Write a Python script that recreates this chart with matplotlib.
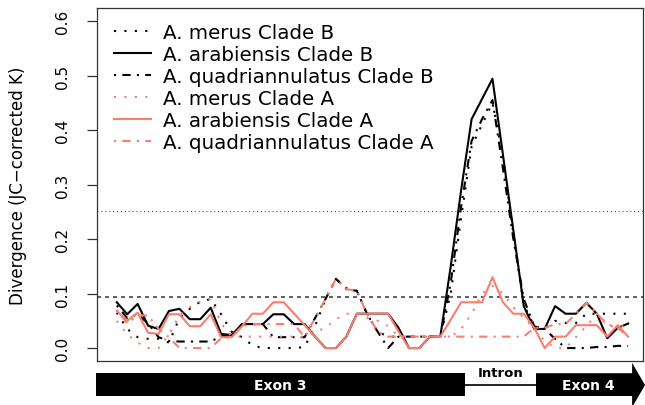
import numpy as np
import matplotlib
matplotlib.use('Agg')
import matplotlib.pyplot as plt
import matplotlib.patches as patches

plt.rcParams.update({'font.family': 'DejaVu Sans'})

# window index along the alignment (50 sliding windows)
window = np.arange(50)

merus_B = [.065, .035, .020, .017, .017, .010, .055, .072, .085, .090,
           .062, .030, .020, .005, .000, .000, .000, .000, .002, .040,
           .090, .127, .110, .105, .062, .030, .021, .021, .021, .021,
           .021, .021, .100, .240, .370, .410, .450, .350, .210, .080,
           .040, .035, .050, .046, .046, .063, .063, .063, .063, .063]
arab_B = [.084, .062, .081, .041, .035, .068, .072, .053, .053, .074,
          .026, .024, .044, .044, .044, .062, .062, .044, .044, .021,
          .000, .000, .021, .063, .063, .063, .063, .037, .000, .000,
          .021, .021, .150, .290, .420, .457, .494, .355, .216, .077,
          .035, .035, .077, .063, .063, .083, .063, .018, .037, .045]
quad_B = [.078, .055, .062, .045, .020, .013, .012, .012, .012, .012,
          .022, .022, .044, .044, .044, .020, .020, .020, .020, .055,
          .090, .127, .108, .105, .062, .030, .000, .021, .021, .021,
          .021, .021, .120, .260, .380, .420, .455, .330, .200, .090,
          .040, .035, .017, .000, .000, .000, .002, .002, .004, .004]
merus_A = [.050, .025, .010, .000, .000, .025, .060, .075, .085, .090,
           .045, .022, .021, .021, .021, .021, .021, .021, .021, .030,
           .037, .053, .063, .063, .055, .050, .040, .021, .021, .021,
           .021, .021, .021, .035, .063, .100, .114, .100, .075, .055,
           .037, .013, .000, .000, .020, .040, .063, .040, .040, .040]
arab_A = [.068, .050, .065, .028, .026, .062, .062, .040, .040, .062,
          .020, .020, .040, .063, .063, .084, .084, .063, .042, .021,
          .000, .000, .021, .063, .063, .063, .063, .030, .000, .000,
          .021, .021, .052, .084, .084, .084, .130, .084, .063, .063,
          .037, .000, .021, .021, .042, .042, .042, .021, .042, .021]
quad_A = [.070, .045, .060, .060, .035, .020, .000, .000, .000, .000,
          .018, .020, .040, .044, .044, .044, .044, .044, .020, .055,
          .090, .127, .108, .105, .062, .030, .021, .021, .021, .021,
          .021, .021, .021, .021, .021, .021, .021, .021, .021, .021,
          .037, .037, .044, .044, .063, .083, .063, .044, .037, .021]

series = [('A. merus Clade B', merus_B, 'black', (0, (1, 4))),
          ('A. arabiensis Clade B', arab_B, 'black', '-'),
          ('A. quadriannulatus Clade B', quad_B, 'black', (0, (1, 3, 4, 3))),
          ('A. merus Clade A', merus_A, '#F87F70', (0, (1, 4))),
          ('A. arabiensis Clade A', arab_A, '#F87F70', '-'),
          ('A. quadriannulatus Clade A', quad_A, '#F87F70', (0, (1, 3, 4, 3)))]

thr_upper = 0.251   # dotted reference line
thr_lower = 0.093   # dashed reference line

# gene model, in window units
exon3 = (-2.0, 33.37)
exon4 = (40.17, 49.38)
arrow_tip = 50.62

fig = plt.figure(figsize=(6.45, 4.06), dpi=100)
ax = fig.add_axes([0.150, 0.108, 0.847, 0.870])

for lab, vals, col, ls in series:
    ax.plot(window, vals, color=col, ls=ls, lw=1.5, label=lab)

ax.axhline(thr_upper, color='#555555', lw=0.8, ls=(0, (1, 2.5)), zorder=0)
ax.axhline(thr_lower, color='#444444', lw=1.2, ls=(0, (2.4, 2.4)), zorder=0)

ax.set_xlim(-1.92, 50.43)
ax.set_ylim(-0.024, 0.624)
ax.set_xticks([])
ax.set_yticks(np.arange(0, 0.61, 0.1))
ax.set_yticklabels(['%.1f' % v for v in np.arange(0, 0.61, 0.1)])
ax.tick_params(axis='y', labelrotation=90, length=7, width=0.9, pad=12,
               labelsize=11, color='#333333')
for t in ax.get_yticklabels():
    t.set_va('center')
ax.set_ylabel('Divergence (JC\u2212corrected K)', fontsize=12)
ax.yaxis.set_label_coords(-0.128, 0.5)
for sp in ax.spines.values():
    sp.set_linewidth(0.9)
    sp.set_color('#333333')

ax.legend(loc='upper left', bbox_to_anchor=(0.006, 0.997), frameon=False,
          fontsize=14.3, handlelength=1.85, handletextpad=0.6,
          labelspacing=0.15, borderpad=0.2)

# gene structure bar below the plot
g = fig.add_axes([0.150, 0.0, 0.847, 0.108])
g.set_xlim(-1.92, 50.43)
g.set_ylim(0, 1)
g.axis('off')
g.add_patch(patches.Rectangle((exon3[0], 0.205), exon3[1] - exon3[0], 0.52,
                              facecolor='black', edgecolor='none', clip_on=False))
g.plot([exon3[1], exon4[0]], [0.455, 0.455], color='black', lw=1.2)
g.add_patch(patches.Polygon([(exon4[0], 0.205), (exon4[1], 0.205), (exon4[1], -0.05),
                             (arrow_tip, 0.455), (exon4[1], 0.96), (exon4[1], 0.725),
                             (exon4[0], 0.725)],
                            closed=True, facecolor='black', edgecolor='none', clip_on=False))
g.text((exon3[0] + exon3[1]) / 2, 0.455, 'Exon 3', color='white', fontsize=10,
       fontweight='bold', ha='center', va='center')
g.text((exon3[1] + exon4[0]) / 2, 0.73, 'Intron', color='black', fontsize=9.5,
       fontweight='bold', ha='center', va='center')
g.text((exon4[0] + arrow_tip) / 2 - 0.2, 0.455, 'Exon 4', color='white', fontsize=10,
       fontweight='bold', ha='center', va='center')

fig.savefig('out.png', dpi=100)
